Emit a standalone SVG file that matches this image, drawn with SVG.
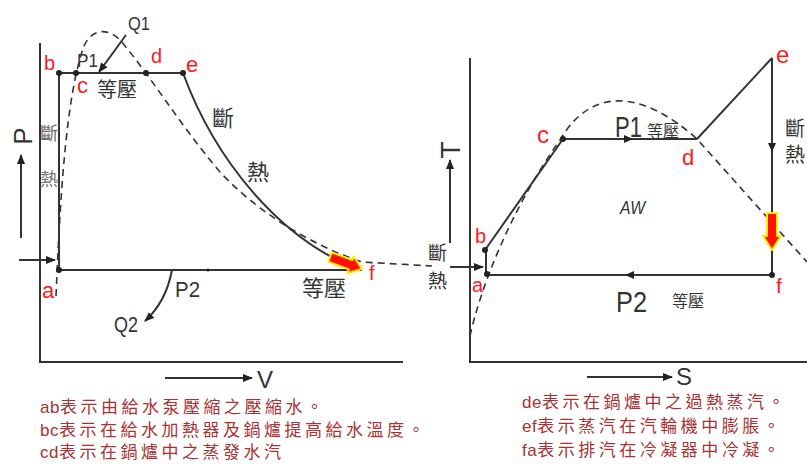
<svg xmlns="http://www.w3.org/2000/svg" width="807" height="464" viewBox="0 0 807 464">
<style>
.ln{stroke:#333;stroke-width:2;fill:none}
.ax{stroke:#333;stroke-width:2;fill:none}
.dash{stroke:#333;stroke-width:1.6;fill:none;stroke-dasharray:7,5}
.dot{fill:#222}
.lbl{font-family:"Liberation Sans",Arial,sans-serif;fill:#ff1a1a}
.t{font-family:"Liberation Sans","Noto Sans CJK TC",sans-serif;fill:#333}
.cj{font-family:"Noto Sans CJK TC","Noto Sans CJK JP",sans-serif;fill:#333}
.cap{font-family:"Noto Sans CJK TC","Noto Sans CJK JP",sans-serif;fill:#a83232;font-size:17px;letter-spacing:3.5px}
.lat{font-family:"Liberation Sans",Arial,sans-serif;letter-spacing:0.5px}
.hot{fill:#ff1000;stroke:#ffee00;stroke-width:2;stroke-linejoin:round}
</style>
<defs>
<marker id="ah" markerWidth="10" markerHeight="8" refX="9" refY="4" orient="auto" markerUnits="userSpaceOnUse">
<path d="M0,0 L10,4 L0,8 Z" fill="#222"/>
</marker>
</defs>
<rect width="807" height="464" fill="#fff"/>

<!-- LEFT P-V chart -->
<g id="pv-axes">
<polyline class="ax" points="40,43 40,362 403,362"/>
<line class="ln" x1="21" y1="238" x2="21" y2="155" marker-end="url(#ah)"/>
<text class="t" font-size="26" text-anchor="middle" transform="translate(32,136) rotate(-90)">P</text>
<line class="ln" x1="165" y1="378" x2="252" y2="378" marker-end="url(#ah)"/>
<text class="t" font-size="24" x="257" y="388">V</text>
</g>

<g id="pv-connectors">
<path class="dash" d="M56,296 C60,200 66,95 84,46 C92,28 108,28 120,40 C150,75 180,125 220,172 C255,210 310,245 362,262 L432,266"/>
<line class="ln" x1="59" y1="270" x2="59" y2="73"/>
<line class="ln" x1="59" y1="73" x2="183" y2="73"/>
<path class="ln" d="M183,73 C215,160 280,240 360,270"/>
<line class="ln" x1="59" y1="270" x2="362" y2="270"/>
<line class="ln" x1="19" y1="260" x2="55" y2="260" marker-end="url(#ah)"/>
<line class="ln" x1="126" y1="35" x2="99" y2="72" marker-end="url(#ah)"/>
<path class="ln" d="M172,270 Q166,302 145,321" marker-end="url(#ah)"/>
<polygon class="hot" transform="translate(330,257) rotate(20.6)" points="0,-5 22,-5 22,-9 34,0 22,9 22,5 0,5"/>
<circle class="dot" cx="208" cy="270" r="1.5"/>
</g>

<g id="pv-b"><circle class="dot" cx="59" cy="73" r="3"/><text class="lbl" font-size="20" x="44" y="70">b</text></g>
<g id="pv-c"><circle class="dot" cx="76" cy="73" r="3"/><text class="lbl" font-size="22" x="77" y="93">c</text></g>
<g id="pv-d"><circle class="dot" cx="146" cy="73" r="3"/><text class="lbl" font-size="20" x="151" y="63">d</text></g>
<g id="pv-e"><circle class="dot" cx="183" cy="73" r="3"/><text class="lbl" font-size="22" x="186" y="72">e</text></g>
<g id="pv-a"><circle class="dot" cx="59" cy="270" r="3"/><text class="lbl" font-size="22" x="42" y="298">a</text></g>
<g id="pv-f"><text class="lbl" font-size="20" x="369" y="280">f</text></g>

<g id="pv-labels">
<text class="t" font-size="18" x="128" y="30" textLength="22" lengthAdjust="spacingAndGlyphs">Q1</text>
<text class="t" font-size="18" x="77" y="67" textLength="21" lengthAdjust="spacingAndGlyphs">P1</text>
<text class="cj" font-size="20" x="97" y="97">等壓</text>
<text class="cj" font-size="22" x="212" y="126">斷</text>
<text class="cj" font-size="22" x="247" y="180">熱</text>
<text class="cj" font-size="18" x="40" y="140" style="fill:#666">斷</text>
<text class="cj" font-size="18" x="40" y="186" style="fill:#777">熱</text>
<text class="t" font-size="22" x="175" y="297" textLength="25" lengthAdjust="spacingAndGlyphs">P2</text>
<text class="t" font-size="22" x="114" y="332" textLength="24" lengthAdjust="spacingAndGlyphs">Q2</text>
<text class="cj" font-size="22" x="302" y="296">等壓</text>
</g>

<!-- RIGHT T-S chart -->
<g id="ts-axes">
<polyline class="ax" points="470,58 470,362 807,362"/>
<line class="ln" x1="450" y1="243" x2="450" y2="160" marker-end="url(#ah)"/>
<text class="t" font-size="28" text-anchor="middle" transform="translate(460,150) rotate(-90)">T</text>
<line class="ln" x1="587" y1="377" x2="672" y2="377" marker-end="url(#ah)"/>
<text class="t" font-size="24" x="676" y="385">S</text>
</g>

<g id="ts-connectors">
<path class="dash" d="M470,336 C480,290 510,210 560,140 C590,88 640,88 697,139 L807,262"/>
<line class="ln" x1="486" y1="274" x2="486" y2="250"/>
<line class="ln" x1="485" y1="250" x2="563" y2="139"/>
<line class="ln" x1="563" y1="139" x2="697" y2="139"/>
<line class="ln" x1="697" y1="139" x2="772" y2="58"/>
<line class="ln" x1="772" y1="58" x2="772" y2="275"/>
<line class="ln" x1="772" y1="275" x2="487" y2="275"/>
<line class="ln" x1="450" y1="267" x2="483" y2="267" marker-end="url(#ah)"/>
<polygon fill="#222" points="633,139 624,135 624,143"/>
<polygon fill="#222" points="772,152 768,143 776,143"/>
<polygon fill="#222" points="625,275 634,271 634,279"/>
<polygon class="hot" points="767,213 777,213 777,236 781,236 772,250 763,236 767,236"/>
</g>

<g id="ts-b"><circle class="dot" cx="485" cy="250" r="3"/><text class="lbl" font-size="20" x="475" y="243">b</text></g>
<g id="ts-a"><circle class="dot" cx="487" cy="274" r="3"/><text class="lbl" font-size="20" x="472" y="292">a</text></g>
<g id="ts-c"><circle class="dot" cx="563" cy="139" r="3"/><text class="lbl" font-size="24" x="537" y="143">c</text></g>
<g id="ts-d"><text class="lbl" font-size="22" x="682" y="165">d</text></g>
<g id="ts-e"><text class="lbl" font-size="24" x="776" y="63">e</text></g>
<g id="ts-f"><circle class="dot" cx="772" cy="275" r="3"/><text class="lbl" font-size="21" x="776" y="293">f</text></g>

<g id="ts-labels">
<text class="t" font-size="30" x="615" y="137" textLength="27" lengthAdjust="spacingAndGlyphs">P1</text>
<text class="cj" font-size="16" x="647" y="137">等壓</text>
<text class="t" font-size="19" x="620" y="214" font-style="italic" textLength="25" lengthAdjust="spacingAndGlyphs">AW</text>
<text class="t" font-size="29" x="616" y="312" textLength="31" lengthAdjust="spacingAndGlyphs">P2</text>
<text class="cj" font-size="16" x="672" y="307">等壓</text>
<text class="cj" font-size="20" x="785" y="136">斷</text>
<text class="cj" font-size="20" x="785" y="162">熱</text>
<text class="cj" font-size="19" x="428" y="260">斷</text>
<text class="cj" font-size="19" x="428" y="288">熱</text>
</g>

<!-- Captions -->
<g id="captions">
<text class="cap" x="40" y="413"><tspan class="lat">ab</tspan>表示由給水泵壓縮之壓縮水。</text>
<text class="cap" x="40" y="436"><tspan class="lat">bc</tspan>表示在給水加熱器及鍋爐提高給水溫度。</text>
<text class="cap" x="40" y="458"><tspan class="lat">cd</tspan>表示在鍋爐中之蒸發水汽</text>
<text class="cap" x="522" y="408"><tspan class="lat">de</tspan>表示在鍋爐中之過熱蒸汽。</text>
<text class="cap" x="522" y="432"><tspan class="lat">ef</tspan>表示蒸汽在汽輪機中膨脹。</text>
<text class="cap" x="522" y="456"><tspan class="lat">fa</tspan>表示排汽在冷凝器中冷凝。</text>
</g>
</svg>
